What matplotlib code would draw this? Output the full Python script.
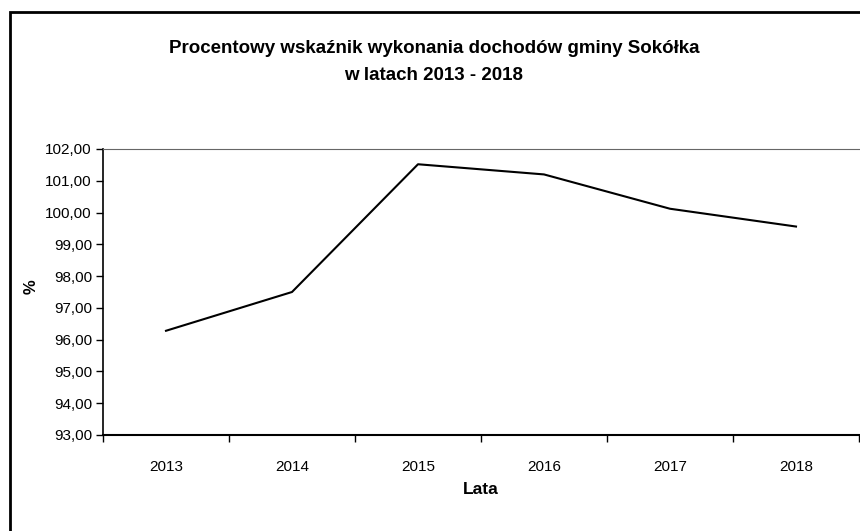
import matplotlib
matplotlib.use("Agg")
import matplotlib.pyplot as plt
from matplotlib.patches import Rectangle
from matplotlib import font_manager

# Data
years = ["2013", "2014", "2015", "2016", "2017", "2018"]
values = [96.28, 97.50, 101.52, 101.20, 100.12, 99.56]
y_ticks = [93, 94, 95, 96, 97, 98, 99, 100, 101, 102]

title = "Procentowy wskaźnik wykonania dochodów gminy Sokółka\nw latach 2013 - 2018"

available = {f.name for f in font_manager.fontManager.ttflist}
family = "Liberation Sans Narrow" if "Liberation Sans Narrow" in available else "Liberation Sans"
plt.rcParams['font.family'] = [family, 'DejaVu Sans']

fig = plt.figure(figsize=(8.6, 5.31), dpi=100)
ax = fig.add_axes([103 / 860, 96 / 531, 756 / 860, 286 / 531])

x = list(range(1, len(years) + 1))
ax.plot(x, values, color="black", linewidth=1.5)

ax.set_xlim(0.5, len(years) + 0.5)
ax.set_ylim(93, 102)

# y axis with comma decimals
ax.set_yticks(y_ticks)
ax.set_yticklabels([f"{v:.2f}".replace(".", ",") for v in y_ticks], fontsize=11)
ax.tick_params(axis="y", direction="out", length=5, width=1, pad=3)

# x axis: ticks on category borders, labels in the middle
ax.set_xticks([i + 0.5 for i in range(0, len(years) + 1)])
ax.set_xticklabels([])
ax.set_xticks(x, minor=True)
ax.set_xticklabels(years, minor=True, fontsize=11)
ax.tick_params(axis="x", which="major", direction="out", length=5, width=1)
ax.tick_params(axis="x", which="minor", length=0, pad=18)

ax.spines["right"].set_visible(False)
ax.spines["top"].set_color("#666666")
ax.spines["left"].set_linewidth(1.2)
ax.spines["bottom"].set_linewidth(1.5)

ax.set_xlabel("Lata", fontsize=12.5, fontweight="bold", labelpad=6)
ax.set_ylabel("%", fontsize=12, fontweight="bold")
ax.yaxis.set_label_coords(-64 / 756, 0.52)

fig.text(434 / 860, 1 - 62 / 531, title, ha="center", va="center",
         fontsize=13.5, fontweight="bold", linespacing=1.8)

# outer frame of the pasted chart
fig.patches.append(Rectangle((10 / 860, -0.05), 1.0, 1 - 12 / 531 + 0.05,
                             transform=fig.transFigure, fill=False,
                             edgecolor="black", linewidth=2))

fig.savefig("out.png", dpi=100)
